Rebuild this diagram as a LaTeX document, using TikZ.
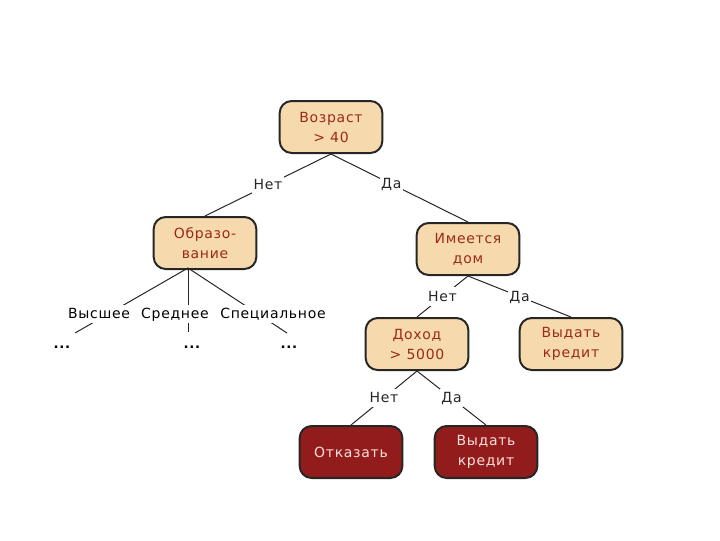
\documentclass[tikz,border=0pt]{standalone}
\usepackage{fontspec}
\setmainfont[LetterSpace=5]{DejaVu Sans}
\definecolor{boxfill}{RGB}{246,218,174}
\definecolor{boxtext}{RGB}{155,42,22}
\definecolor{leaffill}{RGB}{146,28,28}
\definecolor{leaftext}{RGB}{255,222,218}

\begin{document}
\begin{tikzpicture}[x=0.75pt, y=-0.75pt,
  decision/.style={draw=black!85, line width=1.5pt, fill=boxfill, text=boxtext,
    rounded corners=9pt, minimum width=77pt, minimum height=39pt, align=center,
    font=\fontsize{10.5}{15}\selectfont},
  leaf/.style={decision, fill=leaffill, text=leaftext},
  edge/.style={black!85, line width=0.75pt},
  lbl/.style={fill=white, inner sep=1pt, text height=1.7ex, text depth=0.45ex,
    font=\fontsize{10.5}{12}\selectfont},
  dots/.style={inner sep=0pt, font=\bfseries\fontsize{10}{12}\selectfont}]
  \useasboundingbox (0,0) rectangle (720,540);

  % decision nodes
  \node[decision] (age) at (331,127) {Возраст\\> 40};
  \node[decision] (edu) at (205,243) {Образо-\\вание};
  \node[decision] (home) at (468,249) {Имеется\\дом};
  \node[decision] (income) at (417,344) {Доход\\> 5000};
  \node[decision] (give1) at (571,344) {Выдать\\кредит};
  \node[leaf] (refuse) at (351,452) {Отказать};
  \node[leaf] (give2) at (486,452) {Выдать\\кредит};

  % education branches
  \coordinate (eduout) at (188,268);
  \coordinate (e1) at (75,333);
  \coordinate (e2) at (188,332);
  \coordinate (e3) at (287,333);
  \node[dots] (d1) at (62,347) {...};
  \node[dots] (d2) at (192,347) {...};
  \node[dots] (d3) at (289,347) {...};

  % edges
  \draw[edge] (age.south) -- node[lbl]{Нет} (edu.north);
  \draw[edge] (age.south) -- node[lbl, pos=0.44]{Да} (home.north);
  \draw[edge] (home.south) -- node[lbl]{Нет} (income.north);
  \draw[edge] (home.south) -- node[lbl]{Да} (give1.north);
  \draw[edge] (income.south) -- node[lbl]{Нет} (refuse.north);
  \draw[edge] (income.south) -- node[lbl]{Да} (give2.north);
  \draw[edge] (eduout) -- (e1);
  \draw[edge] (eduout) -- (e2);
  \draw[edge] (eduout) -- (e3);
  \node[lbl] (higher) at (99,314) {Высшее};
  \node[lbl] (middle) at (175,314) {Среднее};
  \node[lbl] (special) at (273,314) {Специальное};
\end{tikzpicture}
\end{document}
